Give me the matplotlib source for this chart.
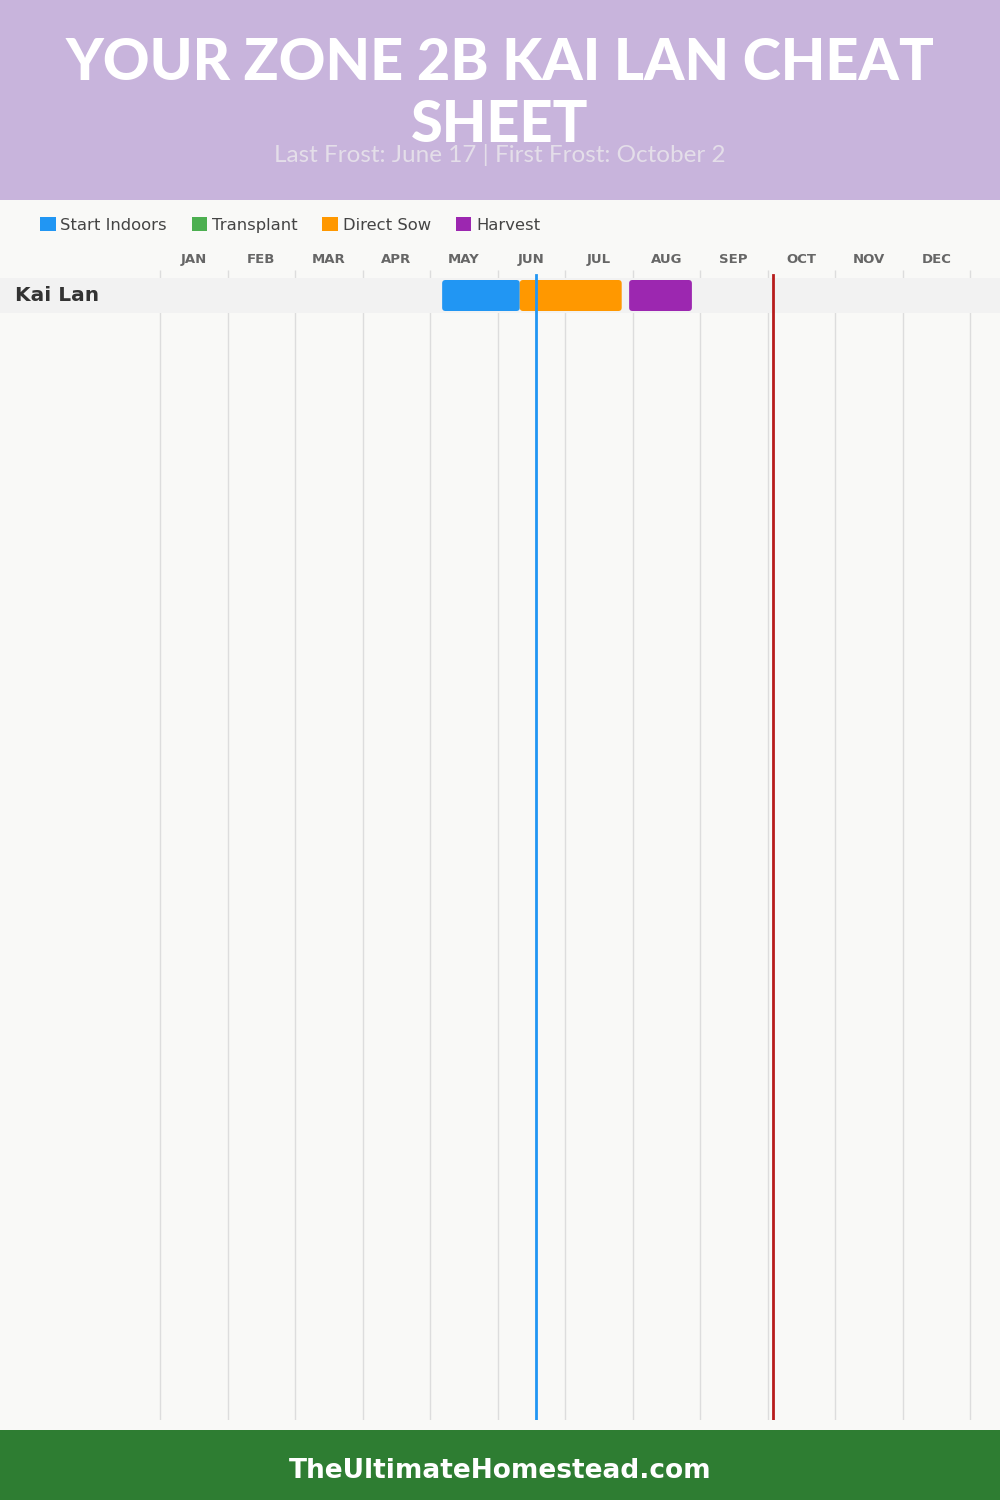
import matplotlib.pyplot as plt
from matplotlib.patches import Rectangle, FancyBboxPatch, Patch
import numpy as np

months = ["JAN", "FEB", "MAR", "APR", "MAY", "JUN", "JUL", "AUG", "SEP", "OCT", "NOV", "DEC"]
crops = ["Kai Lan"]
stage_names = ["Start Indoors", "Transplant", "Direct Sow", "Harvest"]
stage_colors = ["#2196f3", "#4caf50", "#ff9800", "#9c27b0"]
# (crop row, stage index, start month, end month) in month units from Jan 1
bars = [
    (0, 0, 4.18, 5.33),
    (0, 2, 5.33, 6.84),
    (0, 3, 6.95, 7.88),
]
last_frost = 5.57
first_frost = 9.08

W, H = 1000, 1500
fig = plt.figure(figsize=(W / 100, H / 100), dpi=100)
fig.patch.set_facecolor("#f9f9f7")
plt.rcParams['font.family'] = ['DejaVu Sans']

def fy(px):
    return 1 - px / H

# header and footer
fig.patches.append(Rectangle((0, fy(200)), 1, 200 / H, transform=fig.transFigure,
                             facecolor="#c8b4dc", edgecolor="none"))
fig.patches.append(Rectangle((0, 0), 1, 70 / H, transform=fig.transFigure,
                             facecolor="#2e7d32", edgecolor="none"))
fig.text(0.5, fy(63), "YOUR ZONE 2B KAI LAN CHEAT", ha="center", va="center",
         color="white", fontsize=41.5, fontweight="black", family="Lato")
fig.text(0.5, fy(125), "SHEET", ha="center", va="center",
         color="white", fontsize=41.5, fontweight="black", family="Lato")
fig.text(0.5, fy(155), "Last Frost: June 17 | First Frost: October 2", ha="center",
         va="center", color="#e4dee9", fontsize=17.5, family="Lato")
fig.text(0.5, fy(1471), "TheUltimateHomestead.com", ha="center", va="center",
         color="white", fontsize=19, fontweight="bold")

# legend
handles = [Patch(facecolor=c, edgecolor="none", label=n) for n, c in zip(stage_names, stage_colors)]
fig.legend(handles=handles, loc="center left", bbox_to_anchor=(40 / W, fy(225)), ncol=4,
           frameon=False, fontsize=11.8, handlelength=0.95, handleheight=0.95,
           handletextpad=0.3, columnspacing=1.5, labelcolor="#444444", borderpad=0,
           borderaxespad=0)

# chart area: full width, months mapped so Jan 1 at x=160px and Dec 31 at x=970px
top, bottom = 270, 1420
mw = 67.5
row_h = 35
ax = fig.add_axes([0, fy(bottom), 1, (bottom - top) / H])
ax.set_facecolor("none")
ax.set_xlim(-160 / mw, 12 + 30 / mw)
row0 = (295.5 - top) / row_h
ax.set_ylim(-row0 + (bottom - top) / row_h, -row0)
for s in ax.spines.values():
    s.set_visible(False)
ax.set_yticks([])

ax.vlines(np.arange(13), -row0, -row0 + (bottom - top) / row_h, color="#dddddd", lw=1, zorder=1)

ax.set_xticks(np.arange(12) + 0.5)
ax.set_xticklabels(months, fontsize=9.5, fontweight="bold", color="#666666")
ax.xaxis.tick_top()
ax.tick_params(axis="x", length=0, pad=3)

for i, name in enumerate(crops):
    ax.axhspan(i - 0.5, i + 0.5, color="#f2f2f2", zorder=2, lw=0)
    ax.text(15 / mw - 160 / mw, i, name, ha="left", va="center", fontsize=14.5,
            fontweight="bold", color="#333333", zorder=3)

bh = 31 / row_h
for row, st, x0, x1 in bars:
    p = FancyBboxPatch((x0, row - bh / 2), x1 - x0, bh,
                       boxstyle="round,pad=0,rounding_size=0.05",
                       mutation_aspect=mw / row_h,
                       facecolor=stage_colors[st], edgecolor="none", zorder=4)
    ax.add_patch(p)

ymin = (bottom - 275) / (bottom - top)
ax.axvline(last_frost, ymin=0, ymax=ymin, color="#2196f3", lw=2, zorder=5)
ax.axvline(first_frost, ymin=0, ymax=ymin, color="#b71c1c", lw=2, zorder=5)

fig.savefig("out.png", dpi=100, facecolor=fig.get_facecolor())
